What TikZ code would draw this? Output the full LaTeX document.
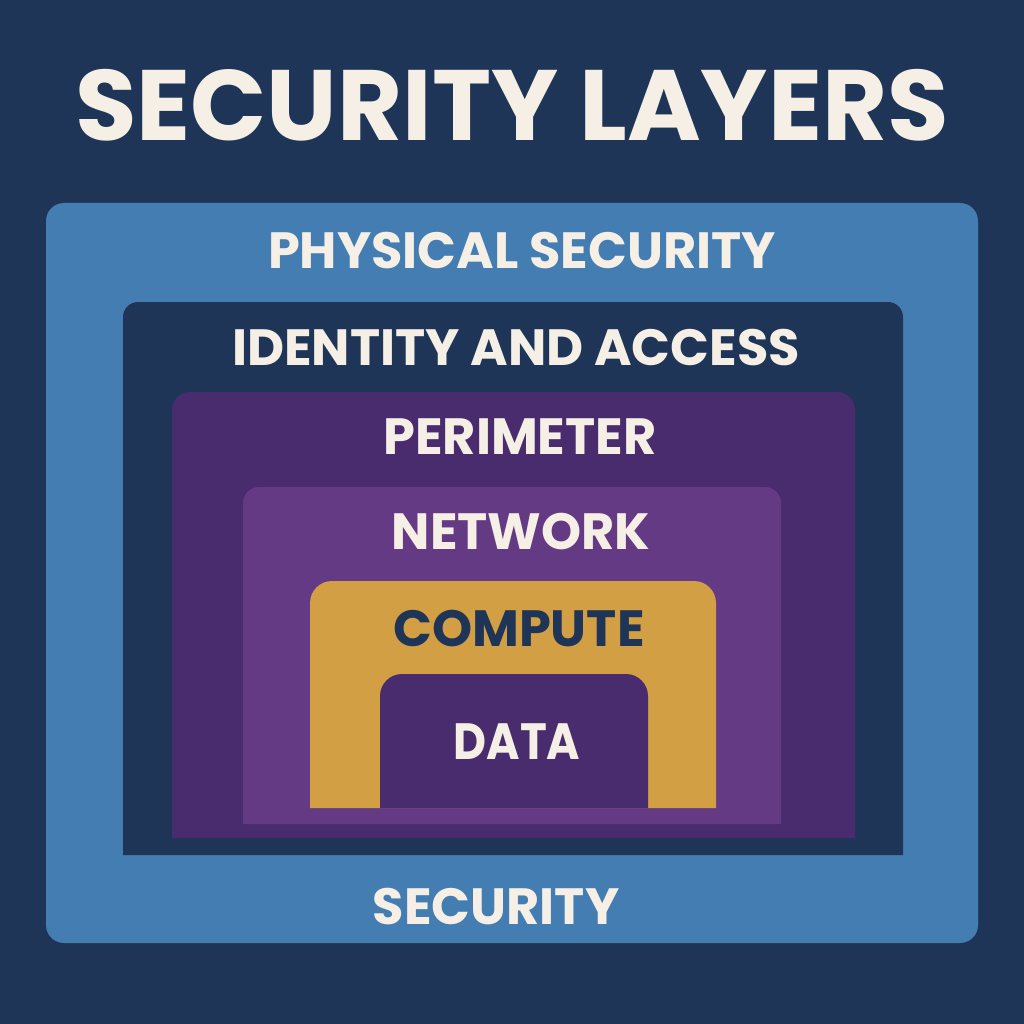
\documentclass[tikz,border=0pt]{standalone}
\usepackage{fontspec}
\setmainfont{Poppins}
\definecolor{navy}{HTML}{1F3557}
\definecolor{steel}{HTML}{447DB2}
\definecolor{plumdark}{HTML}{482C6E}
\definecolor{plumlight}{HTML}{653A84}
\definecolor{gold}{HTML}{D29F45}
\definecolor{cream}{HTML}{F5EFE6}
\tikzset{
  layertext/.style={text=cream,font=\bfseries\fontsize{51pt}{51pt}\selectfont,inner sep=0pt,anchor=base},
}
\begin{document}
\begin{tikzpicture}[x=1pt,y=-1pt]
\useasboundingbox (0,0) rectangle (1024,1024);
\fill[navy] (0,0) rectangle (1024,1024);
\fill[steel,rounded corners=18pt] (46,203) rectangle (978,943);
\fill[navy] (123,855) [rounded corners=15pt] -- (123,302) -- (903,302) [sharp corners] -- (903,855) -- cycle;
\fill[plumdark] (172,838) [rounded corners=18pt] -- (172,392) -- (855,392) [sharp corners] -- (855,838) -- cycle;
\fill[plumlight] (243,824) [rounded corners=16pt] -- (243,487) -- (781,487) [sharp corners] -- (781,824) -- cycle;
\fill[gold] (310,808) [rounded corners=22pt] -- (310,581) -- (716,581) [sharp corners] -- (716,808) -- cycle;
\fill[plumdark] (380,808) [rounded corners=22pt] -- (380,674) -- (648,674) [sharp corners] -- (648,808) -- cycle;
\node[text=cream,font=\bfseries\fontsize{100pt}{100pt}\selectfont,inner sep=0pt,anchor=base] (title) at (512,141) {SECURITY LAYERS};
\node[layertext] (physical) at (522,268) {PHYSICAL SECURITY};
\node[layertext] (identity) at (516,365) {IDENTITY AND ACCESS};
\node[layertext] (perimeter) at (520,454) {PERIMETER};
\node[layertext] (network) at (521,549) {NETWORK};
\node[layertext,text=navy] (compute) at (519,646) {COMPUTE};
\node[layertext,font=\bfseries\fontsize{51pt}{51pt}\selectfont\addfontfeatures{FakeStretch=0.89}] (data) at (517,759) {DATA};
\node[layertext] (security) at (496,924) {SECURITY};
\end{tikzpicture}
\end{document}
